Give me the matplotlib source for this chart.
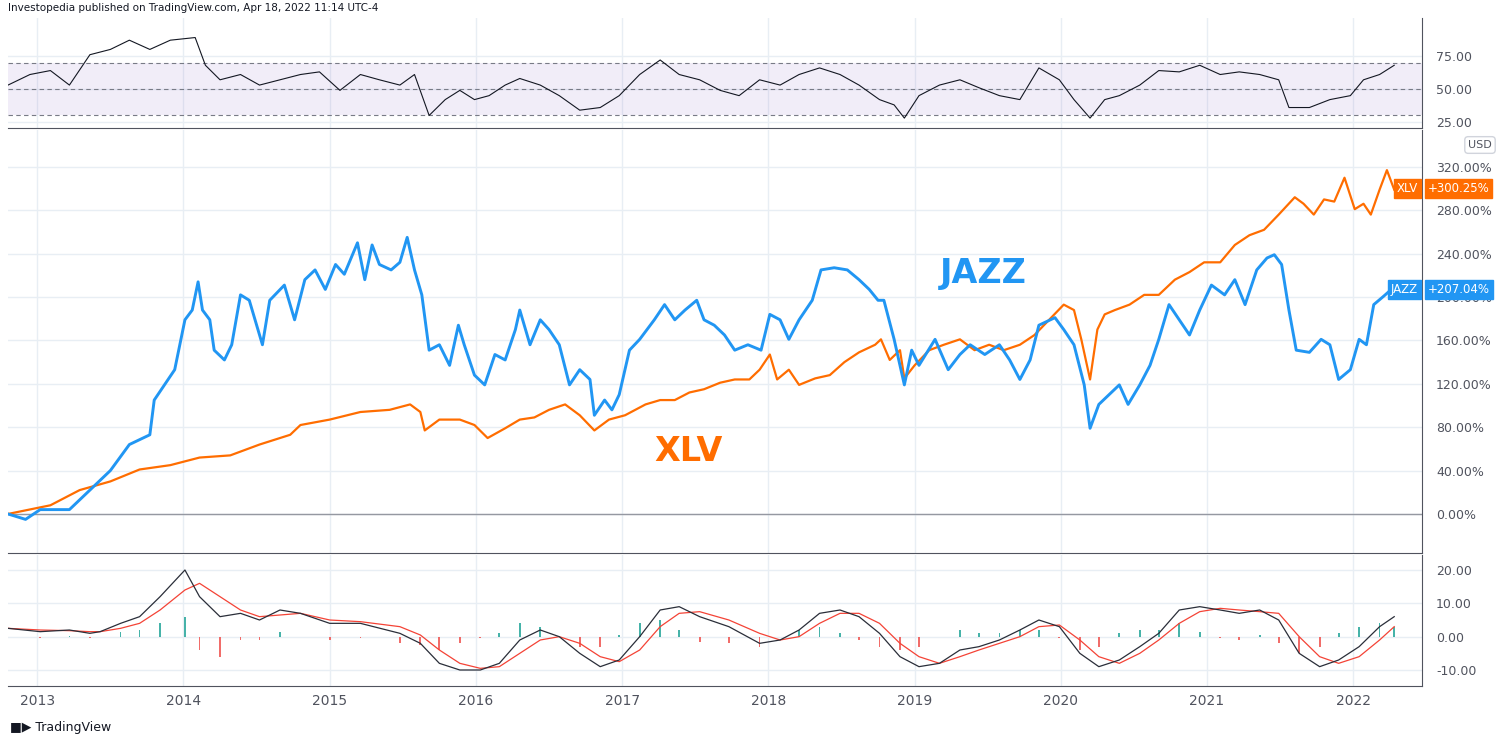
import matplotlib
matplotlib.use("Agg")
import matplotlib.pyplot as plt
import numpy as np

# ---------------- data ----------------
jazz_t = [2012.80,2012.92,2013.02,2013.22,2013.36,2013.50,2013.63,2013.77,2013.80,2013.87,2013.94,2014.01,2014.06,2014.10,2014.13,2014.18,2014.21,2014.28,2014.33,2014.39,2014.45,2014.54,2014.59,2014.69,2014.76,2014.83,2014.90,2014.97,2015.04,2015.10,2015.19,2015.24,2015.29,2015.34,2015.42,2015.48,2015.53,2015.58,2015.63,2015.68,2015.75,2015.82,2015.88,2015.92,2015.99,2016.06,2016.13,2016.20,2016.27,2016.30,2016.37,2016.44,2016.50,2016.57,2016.64,2016.71,2016.78,2016.81,2016.88,2016.93,2016.98,2017.05,2017.12,2017.22,2017.29,2017.36,2017.43,2017.51,2017.56,2017.63,2017.70,2017.77,2017.86,2017.95,2018.01,2018.08,2018.14,2018.21,2018.30,2018.36,2018.45,2018.54,2018.62,2018.69,2018.75,2018.79,2018.86,2018.93,2018.98,2019.03,2019.14,2019.23,2019.31,2019.38,2019.48,2019.58,2019.65,2019.72,2019.79,2019.85,2019.96,2020.02,2020.09,2020.16,2020.20,2020.26,2020.33,2020.40,2020.46,2020.54,2020.61,2020.67,2020.74,2020.81,2020.88,2020.95,2021.03,2021.12,2021.19,2021.26,2021.34,2021.41,2021.46,2021.51,2021.56,2021.61,2021.70,2021.78,2021.84,2021.90,2021.98,2022.04,2022.09,2022.14,2022.21,2022.26]
jazz_v = [0,-5,4,4,22,40,64,73,105,119,133,179,188,214,188,179,151,142,156,202,197,156,197,211,179,216,225,207,230,221,250,216,248,230,225,232,255,225,202,151,156,137,174,156,128,119,147,142,170,188,156,179,170,156,119,133,124,91,105,96,110,151,161,179,193,179,188,197,179,174,165,151,156,151,184,179,161,179,197,225,227,225,216,207,197,197,161,119,151,137,161,133,147,156,147,156,142,124,142,174,181,170,156,119,79,101,110,119,101,119,137,161,193,179,165,188,211,202,216,193,225,236,239,230,188,151,149,161,156,124,133,161,156,193,201,207]

xlv_t = [2012.80,2013.09,2013.29,2013.50,2013.70,2013.91,2014.11,2014.32,2014.52,2014.73,2014.80,2015.00,2015.21,2015.41,2015.55,2015.62,2015.65,2015.75,2015.89,2015.99,2016.08,2016.20,2016.30,2016.40,2016.50,2016.61,2016.71,2016.81,2016.91,2017.02,2017.16,2017.26,2017.36,2017.46,2017.56,2017.67,2017.77,2017.87,2017.94,2018.01,2018.06,2018.14,2018.21,2018.32,2018.42,2018.52,2018.62,2018.73,2018.77,2018.83,2018.90,2018.93,2019.00,2019.10,2019.20,2019.31,2019.41,2019.51,2019.61,2019.72,2019.82,2019.92,2020.02,2020.09,2020.14,2020.20,2020.25,2020.30,2020.37,2020.47,2020.57,2020.67,2020.78,2020.88,2020.98,2021.09,2021.19,2021.29,2021.39,2021.49,2021.60,2021.66,2021.73,2021.80,2021.87,2021.94,2022.01,2022.07,2022.12,2022.18,2022.23,2022.28]
xlv_v = [0,8,22,30,41,45,52,54,64,73,82,87,94,96,101,94,77,87,87,82,70,79,87,89,96,101,91,77,87,91,101,105,105,112,115,121,124,124,133,147,124,133,119,125,128,140,149,156,161,142,151,125,137,151,156,161,151,156,151,156,165,179,193,188,161,124,170,184,188,193,202,202,216,223,232,232,248,257,262,276,292,286,276,290,288,310,281,286,276,299,317,299]

rsi_t = [2012.80,2012.95,2013.09,2013.22,2013.36,2013.50,2013.63,2013.77,2013.91,2014.08,2014.15,2014.25,2014.39,2014.52,2014.66,2014.80,2014.93,2015.07,2015.21,2015.34,2015.48,2015.58,2015.68,2015.79,2015.89,2015.99,2016.09,2016.20,2016.30,2016.44,2016.57,2016.71,2016.85,2016.98,2017.12,2017.26,2017.39,2017.53,2017.67,2017.80,2017.94,2018.08,2018.21,2018.35,2018.49,2018.62,2018.76,2018.86,2018.93,2019.03,2019.17,2019.31,2019.44,2019.58,2019.72,2019.85,2019.99,2020.09,2020.20,2020.30,2020.40,2020.54,2020.67,2020.81,2020.95,2021.09,2021.22,2021.36,2021.49,2021.56,2021.70,2021.84,2021.98,2022.07,2022.18,2022.28]
rsi_v = [53,61,64,53,76,80,87,80,87,89,68,57,61,53,57,61,63,49,61,57,53,61,30,42,49,42,45,53,58,53,45,34,36,45,61,72,61,57,49,45,57,53,61,66,61,53,42,38,28,45,53,57,51,45,42,66,57,42,28,42,45,53,64,63,68,61,63,61,57,36,36,42,45,57,61,68]

macd_t = [2012.80,2013.02,2013.22,2013.36,2013.43,2013.57,2013.70,2013.84,2014.01,2014.11,2014.25,2014.39,2014.52,2014.66,2014.80,2015.00,2015.21,2015.48,2015.62,2015.75,2015.89,2016.03,2016.16,2016.30,2016.44,2016.57,2016.71,2016.85,2016.98,2017.12,2017.26,2017.39,2017.53,2017.73,2017.94,2018.08,2018.21,2018.35,2018.49,2018.62,2018.76,2018.90,2019.03,2019.17,2019.31,2019.44,2019.58,2019.72,2019.85,2019.99,2020.13,2020.26,2020.40,2020.54,2020.67,2020.81,2020.95,2021.09,2021.22,2021.36,2021.49,2021.63,2021.77,2021.90,2022.04,2022.18,2022.28]
macd_v = [2.5,1.5,2,1,1.5,4,6,12,20,12,6,7,5,8,7,4,4,1,-2,-8,-10,-10,-8,-1,2,0,-5,-9,-7,0,8,9,6,3,-2,-1,2,7,8,6,1,-6,-9,-8,-4,-3,-1,2,5,3,-5,-9,-7,-3,1,8,9,8,7,8,5,-5,-9,-7,-3,3,6]
signal_v = [2.5,2,1.8,1.5,1.5,2.5,4,8,14,16,12,8,6,6.5,7,5,4.5,3,0.5,-4,-8,-9.5,-9,-5,-1,0,-2,-6,-7.5,-4,3,7,7.5,5,1,-1,0,4,7,7,4,-2,-6,-8,-6,-4,-2,0,3,3.5,-1,-6,-8,-5,-1,4,7.5,8.5,8,7.5,7,0,-6,-8,-6,-1,3]

years = [2013,2014,2015,2016,2017,2018,2019,2020,2021,2022]
main_ticks = [0,40,80,120,160,200,240,280,320]
rsi_ticks = [25,50,75]
macd_ticks = [-10,0,10,20]

# ---------------- styling ----------------
BLUE = "#2196f3"
ORANGE = "#ff6d00"
GRID = "#e8eef4"
TXT = "#50535e"
plt.rcParams["font.family"] = "DejaVu Sans"

fig = plt.figure(figsize=(15, 7.44), dpi=100)
L, R = 8/1500, 1422/1500
ax_r = fig.add_axes([L, 1-128/744, R-L, 110/744])
ax_m = fig.add_axes([L, 1-553/744, R-L, 423/744])
ax_c = fig.add_axes([L, 1-686/744, R-L, 131/744])
xlim = (2012.80, 2022.47)

for ax in (ax_r, ax_m, ax_c):
    ax.set_xlim(*xlim)
    ax.set_xticks(years)
    ax.grid(True, color=GRID, lw=1)
    ax.set_axisbelow(True)
    ax.yaxis.tick_right()
    ax.tick_params(axis="y", length=0, labelsize=9, colors=TXT, pad=10)
    ax.tick_params(axis="x", length=0)
    for s in ("left", "top"):
        ax.spines[s].set_visible(False)
    ax.spines["right"].set_color("#50535e")
    ax.spines["bottom"].set_color("#50535e")
    if ax is not ax_c:
        ax.set_xticklabels([])

# RSI
ax_r.set_ylim(20.5, 103.8)
ax_r.axhspan(30, 70, color="#7e57c2", alpha=0.1, lw=0)
for lv in (30, 50, 70):
    ax_r.axhline(lv, color="#787b86", lw=0.8, ls=(0, (4, 3)))
ax_r.plot(rsi_t, rsi_v, color="#131722", lw=0.8)
ax_r.set_yticks(rsi_ticks)
ax_r.set_yticklabels([f"{v:.2f}" for v in rsi_ticks])

# Main
ax_m.set_ylim(-36, 354)
ax_m.axhline(0, color="#9598a1", lw=1)
ax_m.plot(xlv_t, xlv_v, color=ORANGE, lw=1.6)
ax_m.plot(jazz_t, jazz_v, color=BLUE, lw=2.1)
ax_m.set_yticks(main_ticks)
ax_m.set_yticklabels([f"{v:.2f}%" for v in main_ticks])
ax_m.text(2019.17, 222, "JAZZ", color=BLUE, fontsize=24, fontweight="bold", ha="left", va="center")
ax_m.text(2017.22, 58, "XLV", color=ORANGE, fontsize=24, fontweight="bold", ha="left", va="center")
for name, val, col, lab in (("XLV", 300.25, ORANGE, "+300.25%"), ("JAZZ", 207.04, BLUE, "+207.04%")):
    ax_m.annotate(lab, xy=(1.0, val), xycoords=("axes fraction", "data"), xytext=(4, 0),
                  textcoords="offset points", ha="left", va="center", fontsize=8.5, color="white",
                  bbox=dict(boxstyle="square,pad=0.25", fc=col, ec=col), annotation_clip=False, zorder=10)
    ax_m.annotate(name, xy=(1.0, val), xycoords=("axes fraction", "data"), xytext=(-3, 0),
                  textcoords="offset points", ha="right", va="center", fontsize=8.5, color="white",
                  bbox=dict(boxstyle="square,pad=0.25", fc=col, ec=col), annotation_clip=False, zorder=10)
fig.text(1480/1500, 1-145/744, "USD", fontsize=8, color=TXT, ha="center", va="center",
         bbox=dict(boxstyle="round,pad=0.3", fc="white", ec="#d1d4dc"))

# MACD
ax_c.set_ylim(-14.8, 24.5)
hist = np.array(macd_v) - np.array(signal_v)
cols = ["#26a69a" if h >= 0 else "#ef5350" for h in hist]
ax_c.bar(macd_t, hist, width=0.012, color=cols, alpha=0.85)
ax_c.plot(macd_t, signal_v, color="#f44336", lw=0.9)
ax_c.plot(macd_t, macd_v, color="#2a2e39", lw=0.9)
ax_c.set_yticks(macd_ticks)
ax_c.set_yticklabels([f"{v:.2f}" for v in macd_ticks])
ax_c.set_xticklabels([str(y) for y in years])
ax_c.tick_params(axis="x", labelsize=10, colors=TXT, pad=6)

fig.text(8/1500, 1-8/744, "Investopedia published on TradingView.com, Apr 18, 2022 11:14 UTC-4",
         fontsize=7.5, color="#131722", ha="left", va="center")
fig.text(10/1500, 1-727/744, "\u25a0\u25b6 TradingView", fontsize=9, color="#131722", ha="left", va="center")

fig.savefig("out.png", dpi=100, facecolor="white")
